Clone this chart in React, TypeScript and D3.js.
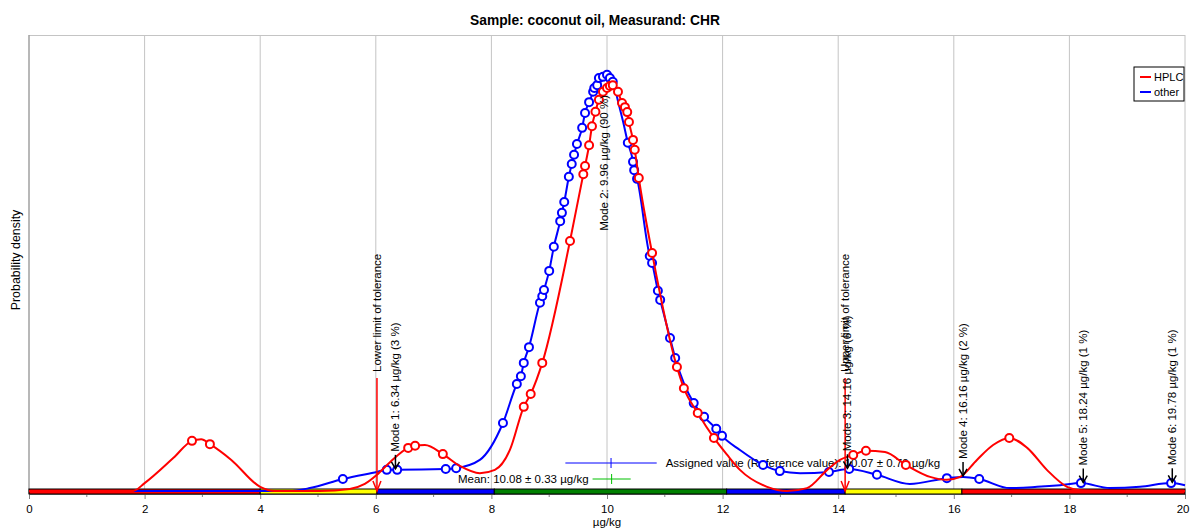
import React, { useEffect, useRef } from 'react';
import * as d3 from 'd3';

// kernel density curves: [value µg/kg, density (blue peak ~ 100)]
const hplcCurve: [number, number][] = [
  [0, 0], [1.8, 0], [2.0, 1.9], [2.5, 8.0], [2.98, 12.5], [3.5, 7.5], [4.0, 1.0], [4.25, 0],
  [5.03, 0], [5.55, 0.5], [5.81, 1.7], [6.02, 3.9], [6.25, 7.0], [6.85, 11.1], [7.46, 6.0],
  [7.8, 4.3], [8.06, 5.1], [8.32, 9.9], [12.08, 8.7], [12.3, 5.1], [12.77, 1.0], [13.11, 0],
  [13.46, 0.7], [13.81, 5.1], [14.03, 7.5], [14.81, 9.4], [15.59, 3.4], [15.88, 2.7],
  [16.11, 3.4], [16.4, 7.5], [16.68, 11.1], [17.27, 10.4], [17.61, 5.1], [17.96, 1.0],
  [18.18, 0.2], [18.53, 0], [20, 0],
];
const hplcPoints: [number, number][] = [
  [2.82, 12.1], [3.13, 11.3], [6.56, 10.4], [6.68, 10.9], [7.16, 8.9], [8.56, 20.3], [8.68, 23.4],
  [8.88, 30.9], [9.36, 60.3], [9.59, 76.4], [9.62, 78.4], [9.69, 83.4], [9.74, 88.0], [9.8, 91.5],
  [9.86, 94.4], [9.93, 96.3], [10.0, 97.2], [10.05, 97.7], [10.1, 97.9], [10.19, 96.3],
  [10.26, 93.6], [10.31, 92.6], [10.35, 91.4], [10.38, 89.0], [10.45, 84.7], [10.48, 82.3],
  [10.55, 75.5], [10.78, 57.4], [11.21, 29.9], [11.33, 24.8], [11.57, 18.8], [11.85, 12.8],
  [14.26, 8.7], [14.48, 9.7], [15.17, 6.3], [16.96, 12.8],
];

const otherCurve: [number, number][] = [
  [0, 0], [4.5, 0], [4.86, 0.7], [6.02, 4.6], [7.8, 7.5], [10.2, 93.5], [10.28, 89.0],
  [12.3, 9.9], [13.34, 4.3], [15.24, 1.7], [16.16, 3.4], [16.97, 0.7], [17.44, 1.0],
  [17.84, 1.4], [18.7, 0.7], [19.22, 1.0], [20, 1.4],
];
const otherPoints: [number, number][] = [
  [5.43, 2.9], [6.19, 5.1], [6.37, 5.1], [7.21, 5.3], [7.39, 5.5], [8.2, 16.4], [8.44, 25.8],
  [8.51, 27.7], [8.56, 30.9], [8.65, 34.7], [8.84, 45.4], [8.88, 47.0], [8.91, 48.5], [9.0, 53.1],
  [9.08, 58.9], [9.19, 65.1], [9.22, 67.1], [9.26, 69.7], [9.34, 75.8], [9.39, 78.9], [9.43, 81.1],
  [9.48, 83.7], [9.57, 87.6], [9.62, 91.2], [9.69, 93.8], [9.76, 96.3], [9.78, 97.2], [9.83, 97.9],
  [9.86, 99.6], [9.93, 99.9], [10.0, 100.4], [10.05, 99.6], [10.1, 98.7], [10.36, 84.0],
  [10.45, 79.4], [10.47, 77.4], [10.52, 75.3], [10.74, 56.7], [10.78, 55.0], [10.88, 48.3],
  [10.92, 46.1], [11.09, 36.9], [11.18, 32.1], [11.5, 21.2], [11.68, 17.9], [11.89, 15.0],
  [11.99, 13.3], [12.7, 6.3], [12.99, 4.8], [13.84, 4.6], [14.19, 5.3], [14.67, 3.9],
  [15.88, 3.1], [16.44, 2.9], [18.2, 1.9], [19.76, 1.9],
];

const modeValues = [6.34, 9.96, 14.16, 16.16, 18.24, 19.78];
const modeShares = [3, 90, 6, 2, 1, 1];

const zoneEdges = [0, 4.0, 6.02, 8.05, 12.07, 14.12, 16.14, 20];
const zoneColors = ['#ff0000', '#ffff00', '#0000ff', '#008000', '#0000ff', '#ffff00', '#ff0000'];

const toleranceLimits = [6.02, 14.12];
const toleranceLabels = ['Lower limit of tolerance', 'Upper limit of tolerance'];

const meanValue = 10.08;
const meanU = 0.33;
const assignedValue = 10.07;
const assignedU = 0.79;

const seriesNames = ['HPLC', 'other'];
const seriesColors = ['#ff0000', '#0000ff'];

const FONT = '"Liberation Sans", Arial, sans-serif';
const FS = 11.5;

const merge = (a: [number, number][], b: [number, number][]) =>
  [...a, ...b].sort((p, q) => p[0] - q[0]).filter((p, i, arr) => i === 0 || p[0] !== arr[i - 1][0]);

const App = () => {
  const ref = useRef<SVGSVGElement>(null);

  useEffect(() => {
    const svg = d3.select(ref.current);
    svg.selectAll('*').remove();

    const left = 29, right = 1185, top = 35, base = 491;
    const x = d3.scaleLinear().domain([0, 20]).range([left, right]);
    const y = d3.scaleLinear().domain([0, 110]).range([base, top]);

    svg.append('text')
      .attr('x', 595).attr('y', 25)
      .attr('text-anchor', 'middle')
      .attr('font-family', FONT).attr('font-size', 13.8).attr('font-weight', 'bold')
      .text('Sample: coconut oil, Measurand: CHR');

    svg.append('text')
      .attr('transform', 'translate(20,260) rotate(-90)')
      .attr('text-anchor', 'middle')
      .attr('font-family', FONT).attr('font-size', 12.4)
      .text('Probability density');

    // grid
    svg.append('g').selectAll('line')
      .data(d3.range(2, 21, 2))
      .enter().append('line')
      .attr('x1', d => x(d)).attr('x2', d => x(d))
      .attr('y1', top).attr('y2', 494)
      .attr('stroke', '#c4c4c4').attr('stroke-width', 1);
    svg.append('line')
      .attr('x1', left).attr('x2', right).attr('y1', top + 0.5).attr('y2', top + 0.5)
      .attr('stroke', '#c4c4c4');
    svg.append('line')
      .attr('x1', left).attr('x2', left).attr('y1', top).attr('y2', 494)
      .attr('stroke', '#a0a0a0').attr('stroke-width', 1.5);

    // x axis
    const axis = svg.append('g')
      .attr('transform', 'translate(0,494)')
      .call(d3.axisBottom(x).tickValues(d3.range(0, 21, 2)).tickSize(5).tickSizeOuter(0));
    axis.select('.domain').attr('stroke', '#808080');
    axis.selectAll('.tick line').attr('stroke', '#808080');
    axis.selectAll('.tick text')
      .attr('font-family', FONT).attr('font-size', FS).attr('fill', '#000').attr('dy', '0.95em')
      .filter(d => d === 20).attr('text-anchor', 'end').attr('x', 4);
    svg.append('g').selectAll('line')
      .data(d3.range(1, 20, 2))
      .enter().append('line')
      .attr('x1', d => x(d)).attr('x2', d => x(d))
      .attr('y1', 494).attr('y2', 497)
      .attr('stroke', '#808080');
    svg.append('text')
      .attr('x', x(10)).attr('y', 526)
      .attr('text-anchor', 'middle')
      .attr('font-family', FONT).attr('font-size', FS)
      .text('µg/kg');

    // evaluation zones
    svg.append('g').selectAll('rect')
      .data(zoneColors)
      .enter().append('rect')
      .attr('x', (_, i) => x(zoneEdges[i]))
      .attr('width', (_, i) => x(zoneEdges[i + 1]) - x(zoneEdges[i]))
      .attr('y', 489).attr('height', 5)
      .attr('fill', d => d)
      .attr('stroke', '#000').attr('stroke-width', 1);

    // assigned value and mean
    const ay = 463;
    svg.append('line')
      .attr('x1', x(assignedValue - assignedU)).attr('x2', x(assignedValue + assignedU))
      .attr('y1', ay).attr('y2', ay).attr('stroke', '#0000ff');
    svg.append('line')
      .attr('x1', x(assignedValue)).attr('x2', x(assignedValue))
      .attr('y1', ay - 5).attr('y2', ay + 5).attr('stroke', '#0000ff');
    svg.append('text')
      .attr('x', x(assignedValue + assignedU) + 9).attr('y', ay + 4)
      .attr('font-family', FONT).attr('font-size', FS)
      .text(`Assigned value (Reference value): ${assignedValue.toFixed(2)} ± ${assignedU.toFixed(2)} µg/kg`);

    const my = 479;
    svg.append('line')
      .attr('x1', x(meanValue - meanU)).attr('x2', x(meanValue + meanU))
      .attr('y1', my).attr('y2', my).attr('stroke', '#00c000');
    svg.append('line')
      .attr('x1', x(meanValue)).attr('x2', x(meanValue))
      .attr('y1', my - 5).attr('y2', my + 5).attr('stroke', '#00c000');
    svg.append('text')
      .attr('x', x(meanValue - meanU) - 4).attr('y', my + 4)
      .attr('text-anchor', 'end')
      .attr('font-family', FONT).attr('font-size', FS)
      .text(`Mean: ${meanValue.toFixed(2)} ± ${meanU.toFixed(2)} µg/kg`);

    // density curves
    const line = d3.line<[number, number]>()
      .x(d => x(d[0])).y(d => y(d[1]))
      .curve(d3.curveMonotoneX);
    const series = [
      { curve: merge(otherCurve, otherPoints), points: otherPoints, color: seriesColors[1] },
      { curve: merge(hplcCurve, hplcPoints), points: hplcPoints, color: seriesColors[0] },
    ];
    series.forEach(s => {
      svg.append('path')
        .attr('d', line(s.curve))
        .attr('fill', 'none')
        .attr('stroke', s.color).attr('stroke-width', 2);
      svg.append('g').selectAll('circle')
        .data(s.points)
        .enter().append('circle')
        .attr('cx', d => x(d[0])).attr('cy', d => y(d[1]))
        .attr('r', 4)
        .attr('fill', '#fff')
        .attr('stroke', s.color).attr('stroke-width', 2);
    });

    // tolerance limits
    toleranceLimits.forEach((v, i) => {
      const lx = x(v);
      svg.append('line')
        .attr('x1', lx).attr('x2', lx).attr('y1', 378).attr('y2', base)
        .attr('stroke', '#ff0000').attr('stroke-width', 1.5);
      svg.append('path')
        .attr('d', `M${lx - 4},${base - 10}L${lx},${base}L${lx + 4},${base - 10}`)
        .attr('fill', 'none').attr('stroke', '#ff0000').attr('stroke-width', 1.5);
      svg.append('text')
        .attr('transform', `translate(${lx + 4},372) rotate(-90)`)
        .attr('font-family', FONT).attr('font-size', FS)
        .text(toleranceLabels[i]);
    });

    // modes of the "other" density
    const blue = merge(otherCurve, otherPoints);
    const densityAt = (v: number) => {
      const i = d3.bisector((d: [number, number]) => d[0]).left(blue, v);
      const a = blue[Math.max(0, i - 1)], b = blue[Math.min(blue.length - 1, i)];
      return b[0] === a[0] ? a[1] : a[1] + (b[1] - a[1]) * (v - a[0]) / (b[0] - a[0]);
    };
    modeValues.forEach((v, i) => {
      const mx = x(v);
      const tip = y(densityAt(v)) - 1;
      const label = `Mode ${i + 1}: ${v.toFixed(2)} µg/kg (${modeShares[i]} %)`;
      const fitsAbove = tip - 17 - label.length * 6 > top;
      if (fitsAbove) {
        svg.append('line')
          .attr('x1', mx).attr('x2', mx).attr('y1', tip - 14).attr('y2', tip)
          .attr('stroke', '#000').attr('stroke-width', 1.5);
        svg.append('path')
          .attr('d', `M${mx - 4},${tip - 7}L${mx},${tip}L${mx + 4},${tip - 7}`)
          .attr('fill', 'none').attr('stroke', '#000').attr('stroke-width', 1.5);
      }
      svg.append('text')
        .attr('transform', `translate(${mx + 3.5},${fitsAbove ? tip - 17 : tip + 20}) rotate(-90)`)
        .attr('text-anchor', fitsAbove ? 'start' : 'end')
        .attr('font-family', FONT).attr('font-size', FS)
        .text(label);
    });

    // legend
    const lg = svg.append('g').attr('transform', 'translate(1134,67)');
    lg.append('rect')
      .attr('width', 50).attr('height', 34)
      .attr('fill', '#fff').attr('stroke', '#000');
    seriesNames.forEach((n, i) => {
      lg.append('line')
        .attr('x1', 6).attr('x2', 17).attr('y1', 10 + i * 15).attr('y2', 10 + i * 15)
        .attr('stroke', seriesColors[i]).attr('stroke-width', 2);
      lg.append('text')
        .attr('x', 20).attr('y', 14 + i * 15)
        .attr('font-family', FONT).attr('font-size', 11)
        .text(n);
    });
  }, []);

  return (
    <svg ref={ref} width={1190} height={531}
      style={{ position: 'absolute', left: 0, top: 0, background: '#fff' }} />
  );
};

export default App;
